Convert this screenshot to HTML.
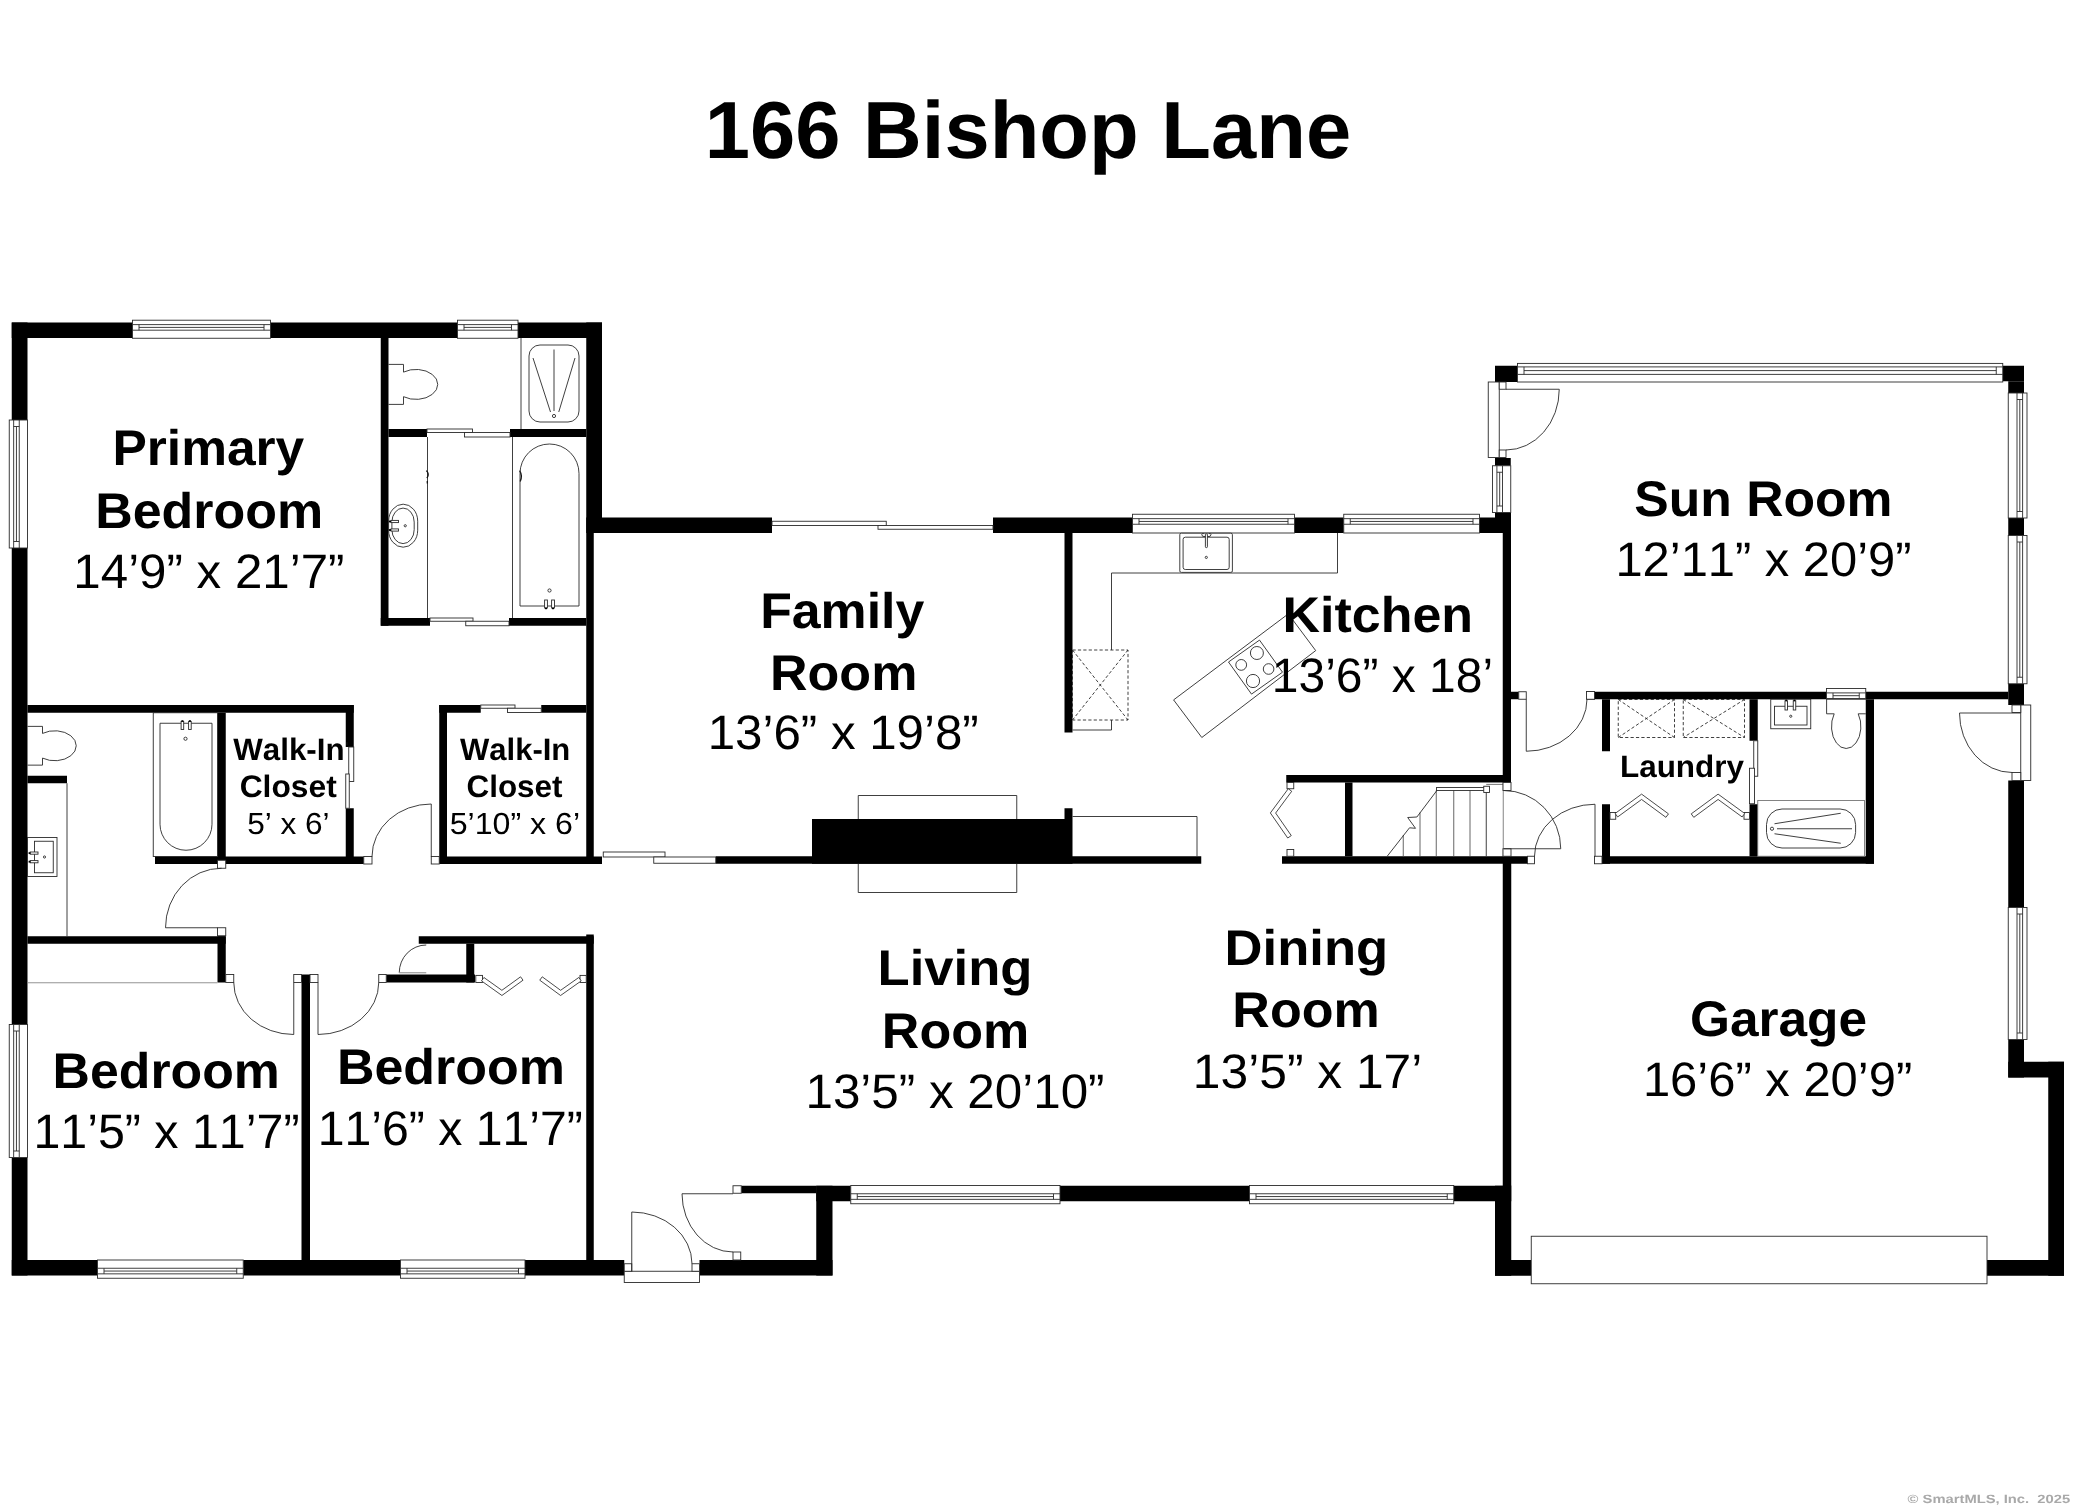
<!DOCTYPE html>
<html><head><meta charset="utf-8"><title>166 Bishop Lane</title>
<style>
html,body{margin:0;padding:0;background:#fff;}
body{width:2076px;height:1510px;overflow:hidden;font-family:"Liberation Sans",sans-serif;}
svg{display:block;will-change:transform;}
text{white-space:pre;}
</style></head><body>
<svg width="2076" height="1510" viewBox="0 0 2076 1510">
<rect x="0" y="0" width="2076" height="1510" fill="#fff"/>
<g fill="#000" stroke="none">
<rect x="11.75" y="322.5" width="120.75" height="15.5"/>
<rect x="270.5" y="322.5" width="187" height="15.5"/>
<rect x="518" y="322.5" width="84" height="15.5"/>
<rect x="11.75" y="322.5" width="15.75" height="97.5"/>
<rect x="11.75" y="548" width="15.75" height="476.5"/>
<rect x="11.75" y="1157.5" width="15.75" height="118"/>
<rect x="11.75" y="1260" width="85.75" height="15.5"/>
<rect x="243.25" y="1260" width="157.25" height="15.5"/>
<rect x="525" y="1260" width="99.25" height="15.5"/>
<rect x="699.5" y="1260" width="133" height="15.5"/>
<rect x="816.25" y="1185.75" width="16.25" height="89.75"/>
<rect x="816.25" y="1185.75" width="34.5" height="15.5"/>
<rect x="1060" y="1185.75" width="189.5" height="15.5"/>
<rect x="1453.75" y="1185.75" width="57.5" height="15.5"/>
<rect x="741.25" y="1185.75" width="75" height="7.5"/>
<rect x="1495" y="1185.75" width="16.25" height="90"/>
<rect x="1495" y="1260" width="36.25" height="15.75"/>
<rect x="1987" y="1260" width="77" height="15.75"/>
<rect x="2048.25" y="1061.75" width="15.75" height="214"/>
<rect x="2008.25" y="1061.75" width="55.75" height="15.75"/>
<rect x="2008.25" y="1039.5" width="15.75" height="38"/>
<rect x="2008.25" y="780.5" width="15.75" height="127"/>
<rect x="2008.25" y="683.75" width="15.75" height="21.25"/>
<rect x="2008.25" y="518" width="15.75" height="17.5"/>
<rect x="2002.75" y="365.75" width="21.25" height="15.5"/>
<rect x="2008.25" y="381.25" width="15.75" height="11.75"/>
<rect x="1495" y="365.75" width="22" height="16.25"/>
<rect x="1495" y="458" width="15.75" height="7.75"/>
<rect x="1495" y="512.5" width="15.75" height="5.5"/>
<rect x="586.25" y="322.5" width="15.75" height="210.5"/>
<rect x="586.25" y="517.5" width="185.75" height="15.5"/>
<rect x="993" y="517.5" width="139.5" height="15.5"/>
<rect x="1294.5" y="517.5" width="49.25" height="15.5"/>
<rect x="1479.5" y="517.5" width="31.25" height="15.5"/>
<rect x="1502.75" y="512.5" width="8.25" height="270"/>
<rect x="1502.75" y="856.25" width="8.5" height="329.75"/>
<rect x="380.75" y="338" width="7.75" height="287.75"/>
<rect x="388.5" y="429" width="38.5" height="8"/>
<rect x="510" y="429" width="76.25" height="8"/>
<rect x="380.75" y="618" width="49.25" height="7.75"/>
<rect x="509" y="618" width="77.25" height="7.75"/>
<rect x="27.5" y="705" width="326.25" height="7.75"/>
<rect x="345.75" y="705" width="8" height="42"/>
<rect x="345.75" y="808.25" width="8" height="55.75"/>
<rect x="217.5" y="712.75" width="8.25" height="147.25"/>
<rect x="155" y="856.5" width="208.75" height="7.5"/>
<rect x="27.5" y="775.75" width="39.5" height="7.5"/>
<rect x="27.5" y="936.25" width="198.25" height="7.5"/>
<rect x="217.5" y="936.25" width="8.25" height="46.25"/>
<rect x="439.25" y="705" width="7.75" height="159"/>
<rect x="439.25" y="705" width="41.5" height="7.75"/>
<rect x="541.25" y="705" width="45" height="7.75"/>
<rect x="439.25" y="856.5" width="162.75" height="7.5"/>
<rect x="586.25" y="533" width="7.5" height="331"/>
<rect x="715.75" y="856.25" width="485.5" height="7.5"/>
<rect x="812" y="819" width="260.5" height="44.75"/>
<rect x="1064.5" y="808.25" width="8" height="10.75"/>
<rect x="1064.5" y="533" width="8" height="199.5"/>
<rect x="418.75" y="936.25" width="175" height="7.5"/>
<rect x="586.25" y="934.5" width="7.5" height="325.5"/>
<rect x="466.25" y="943.75" width="8" height="38.75"/>
<rect x="386.25" y="974.5" width="88.75" height="8"/>
<rect x="301.5" y="974.5" width="8.5" height="285.5"/>
<rect x="1286.25" y="775" width="216.75" height="7.5"/>
<rect x="1282" y="856.25" width="245.5" height="7.5"/>
<rect x="1345" y="782.5" width="7.5" height="73.75"/>
<rect x="1511" y="691.75" width="7.75" height="7.5"/>
<rect x="1594.5" y="691.75" width="232" height="7.5"/>
<rect x="1865.75" y="691.75" width="142.5" height="7.5"/>
<rect x="1602" y="699.25" width="8" height="52"/>
<rect x="1602" y="804.25" width="8" height="59.5"/>
<rect x="1749.5" y="699.25" width="8.25" height="41.5"/>
<rect x="1749.5" y="804.25" width="8.25" height="52"/>
<rect x="1865.75" y="699.25" width="8.25" height="164.5"/>
<rect x="1602" y="856.25" width="272" height="7.5"/>
</g>
<rect x="132.5" y="320.2" width="138" height="18.05" fill="#fff" stroke="#2a2a2a" stroke-width="0.9"/>
<line x1="132.5" y1="324.6" x2="270.5" y2="324.6" stroke="#2a2a2a" stroke-width="0.9" />
<line x1="132.5" y1="330.2" x2="270.5" y2="330.2" stroke="#2a2a2a" stroke-width="0.9" />
<line x1="139" y1="327.4" x2="264" y2="327.4" stroke="#2a2a2a" stroke-width="0.9" />
<line x1="139" y1="324.6" x2="139" y2="330.2" stroke="#2a2a2a" stroke-width="0.9" />
<line x1="264" y1="324.6" x2="264" y2="330.2" stroke="#2a2a2a" stroke-width="0.9" />
<rect x="457.5" y="320.2" width="60.5" height="18.05" fill="#fff" stroke="#2a2a2a" stroke-width="0.9"/>
<line x1="457.5" y1="324.6" x2="518" y2="324.6" stroke="#2a2a2a" stroke-width="0.9" />
<line x1="457.5" y1="330.2" x2="518" y2="330.2" stroke="#2a2a2a" stroke-width="0.9" />
<line x1="464" y1="327.4" x2="511.5" y2="327.4" stroke="#2a2a2a" stroke-width="0.9" />
<line x1="464" y1="324.6" x2="464" y2="330.2" stroke="#2a2a2a" stroke-width="0.9" />
<line x1="511.5" y1="324.6" x2="511.5" y2="330.2" stroke="#2a2a2a" stroke-width="0.9" />
<rect x="9.25" y="420" width="18.25" height="128" fill="#fff" stroke="#2a2a2a" stroke-width="0.9"/>
<line x1="13.65" y1="420" x2="13.65" y2="548" stroke="#2a2a2a" stroke-width="0.9" />
<line x1="19.25" y1="420" x2="19.25" y2="548" stroke="#2a2a2a" stroke-width="0.9" />
<line x1="16.45" y1="426.5" x2="16.45" y2="541.5" stroke="#2a2a2a" stroke-width="0.9" />
<line x1="13.65" y1="426.5" x2="19.25" y2="426.5" stroke="#2a2a2a" stroke-width="0.9" />
<line x1="13.65" y1="541.5" x2="19.25" y2="541.5" stroke="#2a2a2a" stroke-width="0.9" />
<rect x="9.25" y="1024.5" width="18.25" height="133" fill="#fff" stroke="#2a2a2a" stroke-width="0.9"/>
<line x1="13.65" y1="1024.5" x2="13.65" y2="1157.5" stroke="#2a2a2a" stroke-width="0.9" />
<line x1="19.25" y1="1024.5" x2="19.25" y2="1157.5" stroke="#2a2a2a" stroke-width="0.9" />
<line x1="16.45" y1="1031" x2="16.45" y2="1151" stroke="#2a2a2a" stroke-width="0.9" />
<line x1="13.65" y1="1031" x2="19.25" y2="1031" stroke="#2a2a2a" stroke-width="0.9" />
<line x1="13.65" y1="1151" x2="19.25" y2="1151" stroke="#2a2a2a" stroke-width="0.9" />
<rect x="97.5" y="1260" width="145.75" height="18.25" fill="#fff" stroke="#2a2a2a" stroke-width="0.9"/>
<line x1="97.5" y1="1273.85" x2="243.25" y2="1273.85" stroke="#2a2a2a" stroke-width="0.9" />
<line x1="97.5" y1="1268.25" x2="243.25" y2="1268.25" stroke="#2a2a2a" stroke-width="0.9" />
<line x1="104" y1="1271.05" x2="236.75" y2="1271.05" stroke="#2a2a2a" stroke-width="0.9" />
<line x1="104" y1="1273.85" x2="104" y2="1268.25" stroke="#2a2a2a" stroke-width="0.9" />
<line x1="236.75" y1="1273.85" x2="236.75" y2="1268.25" stroke="#2a2a2a" stroke-width="0.9" />
<rect x="400.5" y="1260" width="124.5" height="18.25" fill="#fff" stroke="#2a2a2a" stroke-width="0.9"/>
<line x1="400.5" y1="1273.85" x2="525" y2="1273.85" stroke="#2a2a2a" stroke-width="0.9" />
<line x1="400.5" y1="1268.25" x2="525" y2="1268.25" stroke="#2a2a2a" stroke-width="0.9" />
<line x1="407" y1="1271.05" x2="518.5" y2="1271.05" stroke="#2a2a2a" stroke-width="0.9" />
<line x1="407" y1="1273.85" x2="407" y2="1268.25" stroke="#2a2a2a" stroke-width="0.9" />
<line x1="518.5" y1="1273.85" x2="518.5" y2="1268.25" stroke="#2a2a2a" stroke-width="0.9" />
<rect x="850.75" y="1185.5" width="209.25" height="18.25" fill="#fff" stroke="#2a2a2a" stroke-width="0.9"/>
<line x1="850.75" y1="1199.35" x2="1060" y2="1199.35" stroke="#2a2a2a" stroke-width="0.9" />
<line x1="850.75" y1="1193.75" x2="1060" y2="1193.75" stroke="#2a2a2a" stroke-width="0.9" />
<line x1="857.25" y1="1196.55" x2="1053.5" y2="1196.55" stroke="#2a2a2a" stroke-width="0.9" />
<line x1="857.25" y1="1199.35" x2="857.25" y2="1193.75" stroke="#2a2a2a" stroke-width="0.9" />
<line x1="1053.5" y1="1199.35" x2="1053.5" y2="1193.75" stroke="#2a2a2a" stroke-width="0.9" />
<rect x="1249.5" y="1185.5" width="204.25" height="18.25" fill="#fff" stroke="#2a2a2a" stroke-width="0.9"/>
<line x1="1249.5" y1="1199.35" x2="1453.75" y2="1199.35" stroke="#2a2a2a" stroke-width="0.9" />
<line x1="1249.5" y1="1193.75" x2="1453.75" y2="1193.75" stroke="#2a2a2a" stroke-width="0.9" />
<line x1="1256" y1="1196.55" x2="1447.25" y2="1196.55" stroke="#2a2a2a" stroke-width="0.9" />
<line x1="1256" y1="1199.35" x2="1256" y2="1193.75" stroke="#2a2a2a" stroke-width="0.9" />
<line x1="1447.25" y1="1199.35" x2="1447.25" y2="1193.75" stroke="#2a2a2a" stroke-width="0.9" />
<rect x="1132.5" y="514.25" width="162" height="18.75" fill="#fff" stroke="#2a2a2a" stroke-width="0.9"/>
<line x1="1132.5" y1="518.65" x2="1294.5" y2="518.65" stroke="#2a2a2a" stroke-width="0.9" />
<line x1="1132.5" y1="524.25" x2="1294.5" y2="524.25" stroke="#2a2a2a" stroke-width="0.9" />
<line x1="1139" y1="521.45" x2="1288" y2="521.45" stroke="#2a2a2a" stroke-width="0.9" />
<line x1="1139" y1="518.65" x2="1139" y2="524.25" stroke="#2a2a2a" stroke-width="0.9" />
<line x1="1288" y1="518.65" x2="1288" y2="524.25" stroke="#2a2a2a" stroke-width="0.9" />
<rect x="1343.75" y="514.25" width="135.75" height="18.75" fill="#fff" stroke="#2a2a2a" stroke-width="0.9"/>
<line x1="1343.75" y1="518.65" x2="1479.5" y2="518.65" stroke="#2a2a2a" stroke-width="0.9" />
<line x1="1343.75" y1="524.25" x2="1479.5" y2="524.25" stroke="#2a2a2a" stroke-width="0.9" />
<line x1="1350.25" y1="521.45" x2="1473" y2="521.45" stroke="#2a2a2a" stroke-width="0.9" />
<line x1="1350.25" y1="518.65" x2="1350.25" y2="524.25" stroke="#2a2a2a" stroke-width="0.9" />
<line x1="1473" y1="518.65" x2="1473" y2="524.25" stroke="#2a2a2a" stroke-width="0.9" />
<rect x="1517.5" y="363.4" width="485.25" height="18.6" fill="#fff" stroke="#2a2a2a" stroke-width="0.9"/>
<line x1="1517.5" y1="366.9" x2="2002.75" y2="366.9" stroke="#2a2a2a" stroke-width="0.9" />
<line x1="1517.5" y1="374.4" x2="2002.75" y2="374.4" stroke="#2a2a2a" stroke-width="0.9" />
<line x1="1524" y1="370.6" x2="1996.25" y2="370.6" stroke="#2a2a2a" stroke-width="0.9" />
<line x1="1524" y1="366.9" x2="1524" y2="374.4" stroke="#2a2a2a" stroke-width="0.9" />
<line x1="1996.25" y1="366.9" x2="1996.25" y2="374.4" stroke="#2a2a2a" stroke-width="0.9" />
<rect x="2008.25" y="393" width="18.75" height="125" fill="#fff" stroke="#2a2a2a" stroke-width="0.9"/>
<line x1="2022.6" y1="393" x2="2022.6" y2="518" stroke="#2a2a2a" stroke-width="0.9" />
<line x1="2017" y1="393" x2="2017" y2="518" stroke="#2a2a2a" stroke-width="0.9" />
<line x1="2019.8" y1="399.5" x2="2019.8" y2="511.5" stroke="#2a2a2a" stroke-width="0.9" />
<line x1="2022.6" y1="399.5" x2="2017" y2="399.5" stroke="#2a2a2a" stroke-width="0.9" />
<line x1="2022.6" y1="511.5" x2="2017" y2="511.5" stroke="#2a2a2a" stroke-width="0.9" />
<rect x="2008.25" y="535.5" width="18.75" height="148.25" fill="#fff" stroke="#2a2a2a" stroke-width="0.9"/>
<line x1="2022.6" y1="535.5" x2="2022.6" y2="683.75" stroke="#2a2a2a" stroke-width="0.9" />
<line x1="2017" y1="535.5" x2="2017" y2="683.75" stroke="#2a2a2a" stroke-width="0.9" />
<line x1="2019.8" y1="542" x2="2019.8" y2="677.25" stroke="#2a2a2a" stroke-width="0.9" />
<line x1="2022.6" y1="542" x2="2017" y2="542" stroke="#2a2a2a" stroke-width="0.9" />
<line x1="2022.6" y1="677.25" x2="2017" y2="677.25" stroke="#2a2a2a" stroke-width="0.9" />
<rect x="2008.25" y="907.5" width="18.75" height="132" fill="#fff" stroke="#2a2a2a" stroke-width="0.9"/>
<line x1="2022.6" y1="907.5" x2="2022.6" y2="1039.5" stroke="#2a2a2a" stroke-width="0.9" />
<line x1="2017" y1="907.5" x2="2017" y2="1039.5" stroke="#2a2a2a" stroke-width="0.9" />
<line x1="2019.8" y1="914" x2="2019.8" y2="1033" stroke="#2a2a2a" stroke-width="0.9" />
<line x1="2022.6" y1="914" x2="2017" y2="914" stroke="#2a2a2a" stroke-width="0.9" />
<line x1="2022.6" y1="1033" x2="2017" y2="1033" stroke="#2a2a2a" stroke-width="0.9" />
<rect x="1492.5" y="465.75" width="18.25" height="46.75" fill="#fff" stroke="#2a2a2a" stroke-width="0.9"/>
<line x1="1496.9" y1="465.75" x2="1496.9" y2="512.5" stroke="#2a2a2a" stroke-width="0.9" />
<line x1="1502.5" y1="465.75" x2="1502.5" y2="512.5" stroke="#2a2a2a" stroke-width="0.9" />
<line x1="1499.7" y1="472.25" x2="1499.7" y2="506" stroke="#2a2a2a" stroke-width="0.9" />
<line x1="1496.9" y1="472.25" x2="1502.5" y2="472.25" stroke="#2a2a2a" stroke-width="0.9" />
<line x1="1496.9" y1="506" x2="1502.5" y2="506" stroke="#2a2a2a" stroke-width="0.9" />
<rect x="1826.5" y="688.5" width="39.25" height="10.75" fill="#fff" stroke="#2a2a2a" stroke-width="0.9"/>
<line x1="1826.5" y1="692.9" x2="1865.75" y2="692.9" stroke="#2a2a2a" stroke-width="0.9" />
<line x1="1826.5" y1="698.5" x2="1865.75" y2="698.5" stroke="#2a2a2a" stroke-width="0.9" />
<line x1="1833" y1="695.7" x2="1859.25" y2="695.7" stroke="#2a2a2a" stroke-width="0.9" />
<line x1="1833" y1="692.9" x2="1833" y2="698.5" stroke="#2a2a2a" stroke-width="0.9" />
<line x1="1859.25" y1="692.9" x2="1859.25" y2="698.5" stroke="#2a2a2a" stroke-width="0.9" />
<g>
<path d="M388.5 364.4 H403.5 V372.12 A21.75 15 0 1 1 403.5 396.68 V404.4 H388.5" fill="none" stroke="#2a2a2a" stroke-width="0.9" />
<line x1="521" y1="338" x2="521" y2="429" stroke="#2a2a2a" stroke-width="0.9" />
<rect x="529" y="345" width="50" height="77" rx="11" ry="11" fill="none" stroke="#2a2a2a" stroke-width="0.9"/>
<line x1="554" y1="349.5" x2="554" y2="411" stroke="#2a2a2a" stroke-width="0.9" />
<line x1="533" y1="358" x2="550.5" y2="412" stroke="#2a2a2a" stroke-width="0.9" />
<line x1="575" y1="358" x2="558.75" y2="412" stroke="#2a2a2a" stroke-width="0.9" />
<circle cx="554" cy="416" r="1.6" fill="none" stroke="#2a2a2a" stroke-width="0.9"/>
<rect x="427" y="429" width="45.5" height="3.5" fill="#fff" stroke="#2a2a2a" stroke-width="0.9"/>
<rect x="464.5" y="432.5" width="45.5" height="4.5" fill="#fff" stroke="#2a2a2a" stroke-width="0.9"/>
<rect x="430" y="618" width="43" height="3.25" fill="#fff" stroke="#2a2a2a" stroke-width="0.9"/>
<rect x="465.75" y="621.25" width="43.25" height="4.5" fill="#fff" stroke="#2a2a2a" stroke-width="0.9"/>
<line x1="427.5" y1="437" x2="427.5" y2="618" stroke="#2a2a2a" stroke-width="0.9" />
<line x1="512.5" y1="437" x2="512.5" y2="618" stroke="#2a2a2a" stroke-width="0.9" />
<rect x="388.6" y="504.2" width="29.1" height="43" rx="14.5" ry="17" fill="none" stroke="#2a2a2a" stroke-width="0.9"/>
<rect x="391.9" y="508.1" width="22.3" height="35.5" rx="11.1" ry="14" fill="none" stroke="#2a2a2a" stroke-width="0.9"/>
<rect x="391" y="520.4" width="7.5" height="2.2" fill="#fff" stroke="#2a2a2a" stroke-width="0.9"/>
<rect x="391" y="528.9" width="7.5" height="2.2" fill="#fff" stroke="#2a2a2a" stroke-width="0.9"/>
<rect x="388.8" y="520.6" width="2.2" height="1.8" fill="#000"/><rect x="388.8" y="529.1" width="2.2" height="1.8" fill="#000"/>
<path d="M426.3 470.6 q3.6 3.4 0.6 7.6 M427.3 481 v2.4" fill="none" stroke="#111" stroke-width="1.3" />
<path d="M519.6 470.6 q3.2 5 0.6 10.8" fill="none" stroke="#111" stroke-width="1.3" />
<circle cx="405.25" cy="525.75" r="1.1" fill="none" stroke="#2a2a2a" stroke-width="0.9"/>
<path d="M520 606 V473.5 A29.5 29.5 0 0 1 579 473.5 V606 Z" fill="none" stroke="#2a2a2a" stroke-width="0.9" />
<circle cx="549.5" cy="590.5" r="1.6" fill="none" stroke="#2a2a2a" stroke-width="0.9"/>
<rect x="544.6" y="600" width="2.8" height="8" fill="#fff" stroke="#2a2a2a" stroke-width="0.9"/>
<rect x="551.6" y="600" width="2.9" height="8" fill="#fff" stroke="#2a2a2a" stroke-width="0.9"/>
<rect x="545" y="607.6" width="2" height="1.6" fill="#000"/><rect x="552" y="607.6" width="2" height="1.6" fill="#000"/>
<path d="M27.5 726.375 H42.5 V733.42 A21.5 15 0 1 1 42.5 758.08 V765.125 H27.5" fill="none" stroke="#2a2a2a" stroke-width="0.9" />
<line x1="67" y1="783.25" x2="67" y2="936.25" stroke="#2a2a2a" stroke-width="0.9" />
<rect x="27.5" y="837.5" width="29.5" height="39" fill="#fff" stroke="#2a2a2a" stroke-width="0.9"/>
<rect x="34.5" y="841.25" width="18.75" height="31.5" fill="#fff" stroke="#2a2a2a" stroke-width="0.9"/>
<rect x="30.2" y="852" width="7.8" height="2.2" fill="#fff" stroke="#2a2a2a" stroke-width="0.9"/>
<rect x="30.2" y="860.6" width="7.8" height="2.2" fill="#fff" stroke="#2a2a2a" stroke-width="0.9"/>
<rect x="28.6" y="852.2" width="1.8" height="1.8" fill="#000"/><rect x="28.6" y="860.8" width="1.8" height="1.8" fill="#000"/>
<circle cx="44.5" cy="857" r="1.1" fill="none" stroke="#2a2a2a" stroke-width="0.9"/>
<rect x="153.25" y="712.75" width="64.25" height="143.75" fill="none" stroke="#2a2a2a" stroke-width="0.9"/>
<path d="M160 723.25 H212 V824.25 A26 26 0 0 1 160 824.25 Z" fill="none" stroke="#2a2a2a" stroke-width="0.9" />
<rect x="181.1" y="721.4" width="2.6" height="8.1" fill="#fff" stroke="#2a2a2a" stroke-width="0.9"/>
<rect x="188.6" y="721.4" width="2.6" height="8.1" fill="#fff" stroke="#2a2a2a" stroke-width="0.9"/>
<rect x="181.4" y="720.2" width="2" height="1.6" fill="#000"/><rect x="188.9" y="720.2" width="2" height="1.6" fill="#000"/>
<circle cx="185.5" cy="738.75" r="1.6" fill="none" stroke="#2a2a2a" stroke-width="0.9"/>
<line x1="27.5" y1="982.75" x2="217.5" y2="982.75" stroke="#888" stroke-width="0.9" />
<rect x="348.75" y="747" width="5" height="34.5" fill="#fff" stroke="#2a2a2a" stroke-width="0.9"/>
<rect x="345.75" y="774" width="3.5" height="34.25" fill="#fff" stroke="#2a2a2a" stroke-width="0.9"/>
<rect x="346.2" y="742.2" width="1.4" height="3" fill="#111"/>
<rect x="480.75" y="705" width="34.25" height="3.25" fill="#fff" stroke="#2a2a2a" stroke-width="0.9"/>
<rect x="507.5" y="708.25" width="33.75" height="4.25" fill="#fff" stroke="#2a2a2a" stroke-width="0.9"/>
<rect x="217.5" y="860.25" width="8.25" height="8" fill="#fff" stroke="#2a2a2a" stroke-width="0.9"/>
<rect x="217.5" y="927.75" width="8.25" height="8" fill="#fff" stroke="#2a2a2a" stroke-width="0.9"/>
<path d="M221.5 868.25 A56 59.5 0 0 0 165.5 927.75 H217.5" fill="none" stroke="#2a2a2a" stroke-width="0.9" />
<rect x="363.75" y="856.5" width="8.25" height="7.5" fill="#fff" stroke="#2a2a2a" stroke-width="0.9"/>
<rect x="431.25" y="856.5" width="8" height="7.5" fill="#fff" stroke="#2a2a2a" stroke-width="0.9"/>
<path d="M372 856.5 A59.25 52.5 0 0 1 431.25 804 V856.5" fill="none" stroke="#2a2a2a" stroke-width="0.9" />
<rect x="225.75" y="974.5" width="8" height="8" fill="#fff" stroke="#2a2a2a" stroke-width="0.9"/>
<rect x="293.75" y="974.5" width="7.75" height="8" fill="#fff" stroke="#2a2a2a" stroke-width="0.9"/>
<path d="M233.75 982.5 A60 52 0 0 0 293.75 1034.5 V982.5" fill="none" stroke="#2a2a2a" stroke-width="0.9" />
<rect x="310" y="974.5" width="8" height="8" fill="#fff" stroke="#2a2a2a" stroke-width="0.9"/>
<rect x="378.75" y="974.5" width="7.5" height="8" fill="#fff" stroke="#2a2a2a" stroke-width="0.9"/>
<path d="M378.75 982.5 A60.75 52 0 0 1 318 1034.5 V982.5" fill="none" stroke="#2a2a2a" stroke-width="0.9" />
<path d="M426.25 945 A27 27.75 0 0 0 399.25 972.75" fill="none" stroke="#2a2a2a" stroke-width="0.9" />
<line x1="399.25" y1="972.75" x2="426.25" y2="972.75" stroke="#999" stroke-width="1.2" />
<rect x="475.8" y="975.4" width="6.7" height="7.1" fill="#fff" stroke="#2a2a2a" stroke-width="0.9"/>
<rect x="580" y="975.4" width="6.25" height="7.1" fill="#fff" stroke="#2a2a2a" stroke-width="0.9"/>
<polygon points="481.48,980.91 501.91,995.49 523.03,980.20 520.57,976.80 501.89,990.31 483.92,977.49" fill="#fff" stroke="#2a2a2a" stroke-width="0.85" stroke-linejoin="miter"/>
<polygon points="539.76,980.19 560.58,995.49 581.21,980.92 578.79,977.48 560.62,990.31 542.24,976.81" fill="#fff" stroke="#2a2a2a" stroke-width="0.85" stroke-linejoin="miter"/>
<rect x="772" y="521.25" width="114.25" height="4.25" fill="#fff" stroke="#2a2a2a" stroke-width="0.9"/>
<rect x="878" y="525.5" width="115" height="3.75" fill="#fff" stroke="#2a2a2a" stroke-width="0.9"/>
<rect x="603.25" y="852" width="61.75" height="5" fill="#fff" stroke="#2a2a2a" stroke-width="0.9"/>
<rect x="653.75" y="857" width="62" height="6.25" fill="#fff" stroke="#2a2a2a" stroke-width="0.9"/>
<path d="M858.25 819 V795.5 H1016.75 V819" fill="none" stroke="#2a2a2a" stroke-width="0.9" />
<path d="M858.25 863.75 V892.5 H1016.75 V863.75" fill="none" stroke="#2a2a2a" stroke-width="0.9" />
<path d="M1072.5 816.5 H1197 V856.25" fill="none" stroke="#2a2a2a" stroke-width="0.9" />
<path d="M1337.5 533 V573 H1111.5 V650" fill="none" stroke="#2a2a2a" stroke-width="0.9" />
<rect x="1179.8" y="533.2" width="52.6" height="39.2" rx="1.5" fill="#fff" stroke="#2a2a2a" stroke-width="0.9"/>
<rect x="1183.1" y="537.2" width="46.1" height="32.3" rx="2.2" fill="#fff" stroke="#2a2a2a" stroke-width="0.9"/>
<rect x="1205.4" y="533.8" width="2" height="13.8" rx="0.8" fill="#fff" stroke="#2a2a2a" stroke-width="0.9"/>
<path d="M1205.2 536.6 q-3.4 0.4 -3.4 -2 q0.4 -1.6 2 -1 M1207.6 536.6 q3.4 0.4 3.4 -2 q-0.4 -1.6 -2 -1" fill="none" stroke="#2a2a2a" stroke-width="0.9" />
<circle cx="1206.3" cy="557.4" r="1.1" fill="none" stroke="#2a2a2a" stroke-width="0.9"/>
<rect x="1072.5" y="650" width="55.5" height="70" fill="none" stroke="#2a2a2a" stroke-width="0.9" stroke-dasharray="3.2 2.2"/>
<line x1="1072.5" y1="650" x2="1128" y2="720" stroke="#2a2a2a" stroke-width="0.9" stroke-dasharray="3.2 2.2"/>
<line x1="1128" y1="650" x2="1072.5" y2="720" stroke="#2a2a2a" stroke-width="0.9" stroke-dasharray="3.2 2.2"/>
<path d="M1111.5 720 V730 H1072.5" fill="none" stroke="#2a2a2a" stroke-width="0.9" />
<path d="M1288.3 613.9 L1315.7 650.6 L1201.8 737.5 L1173.6 699.9 Z" fill="none" stroke="#2a2a2a" stroke-width="0.9" />
<path d="M1259.5 640.1 L1282.5 672.2 L1251.5 694.1 L1228.5 662 Z" fill="none" stroke="#2a2a2a" stroke-width="0.9" />
<circle cx="1256.9" cy="653" r="6.5" fill="none" stroke="#2a2a2a" stroke-width="0.9"/>
<circle cx="1241.2" cy="664.9" r="5.4" fill="none" stroke="#2a2a2a" stroke-width="0.9"/>
<circle cx="1268.6" cy="669" r="5.3" fill="none" stroke="#2a2a2a" stroke-width="0.9"/>
<circle cx="1253" cy="681" r="6.6" fill="none" stroke="#2a2a2a" stroke-width="0.9"/>
<rect x="1287" y="782.5" width="6.75" height="6.25" fill="#fff" stroke="#2a2a2a" stroke-width="0.9"/>
<rect x="1287" y="849.5" width="6.75" height="6.75" fill="#fff" stroke="#2a2a2a" stroke-width="0.9"/>
<polygon points="1288.27,788.72 1270.36,812.96 1287.73,838.02 1291.27,835.58 1275.64,813.04 1291.73,791.28" fill="#fff" stroke="#2a2a2a" stroke-width="0.85" stroke-linejoin="miter"/>
<line x1="1403.25" y1="835" x2="1403.25" y2="856.25" stroke="#555" stroke-width="0.9" />
<line x1="1420" y1="812.5" x2="1420" y2="856.25" stroke="#555" stroke-width="0.9" />
<line x1="1436.25" y1="790.5" x2="1436.25" y2="856.25" stroke="#555" stroke-width="0.9" />
<line x1="1453.75" y1="790.5" x2="1453.75" y2="856.25" stroke="#555" stroke-width="0.9" />
<line x1="1470" y1="790.5" x2="1470" y2="856.25" stroke="#555" stroke-width="0.9" />
<line x1="1486.25" y1="787.5" x2="1486.25" y2="856.25" stroke="#2a2a2a" stroke-width="0.9" />
<path d="M1436.25 787.5 H1486.25 M1436.25 790.5 H1486.25" fill="none" stroke="#2a2a2a" stroke-width="0.9" />
<path d="M1387.4 856 L1409.5 827.8 L1415.5 828.3 L1407.7 817.5 L1416.9 817 L1436.5 791 V787.2" fill="none" stroke="#2a2a2a" stroke-width="0.9" />
<path d="M1486.25 784.4 H1503" fill="none" stroke="#666" stroke-width="0.9" />
<rect x="1483.75" y="786.25" width="5.75" height="6.25" fill="#fff" stroke="#2a2a2a" stroke-width="0.9"/>
<line x1="1503.25" y1="782.5" x2="1503.25" y2="856.25" stroke="#777" stroke-width="0.9" />
<rect x="1503" y="782.5" width="8" height="8" fill="#fff" stroke="#2a2a2a" stroke-width="0.9"/>
<rect x="1503" y="848.75" width="8" height="7.5" fill="#fff" stroke="#2a2a2a" stroke-width="0.9"/>
<path d="M1503.75 790.5 A57 58.25 0 0 1 1560.75 848.75 H1503.75" fill="none" stroke="#2a2a2a" stroke-width="0.9" />
<rect x="1518.75" y="691.75" width="7.5" height="7.5" fill="#fff" stroke="#2a2a2a" stroke-width="0.9"/>
<rect x="1587" y="691.75" width="7.5" height="7.5" fill="#fff" stroke="#2a2a2a" stroke-width="0.9"/>
<path d="M1526.25 699.25 V751.25 A60.75 52 0 0 0 1587 699.25" fill="none" stroke="#2a2a2a" stroke-width="0.9" />
<rect x="1527.5" y="856.25" width="7" height="7.5" fill="#fff" stroke="#2a2a2a" stroke-width="0.9"/>
<rect x="1594.5" y="856.25" width="7.5" height="7.5" fill="#fff" stroke="#2a2a2a" stroke-width="0.9"/>
<path d="M1534.5 856.25 A60.5 52 0 0 1 1595 804.25 V856.25" fill="none" stroke="#2a2a2a" stroke-width="0.9" />
<rect x="1618.25" y="699.5" width="56.25" height="38" fill="none" stroke="#2a2a2a" stroke-width="0.9" stroke-dasharray="3.2 2.2"/>
<line x1="1618.25" y1="699.5" x2="1674.5" y2="737.5" stroke="#2a2a2a" stroke-width="0.9" stroke-dasharray="3.2 2.2"/>
<line x1="1674.5" y1="699.5" x2="1618.25" y2="737.5" stroke="#2a2a2a" stroke-width="0.9" stroke-dasharray="3.2 2.2"/>
<rect x="1683.25" y="699.5" width="61.25" height="38" fill="none" stroke="#2a2a2a" stroke-width="0.9" stroke-dasharray="3.2 2.2"/>
<line x1="1683.25" y1="699.5" x2="1744.5" y2="737.5" stroke="#2a2a2a" stroke-width="0.9" stroke-dasharray="3.2 2.2"/>
<line x1="1744.5" y1="699.5" x2="1683.25" y2="737.5" stroke="#2a2a2a" stroke-width="0.9" stroke-dasharray="3.2 2.2"/>
<rect x="1610" y="812.5" width="5.75" height="6.75" fill="#fff" stroke="#2a2a2a" stroke-width="0.9"/>
<rect x="1744" y="812.5" width="5.5" height="6.75" fill="#fff" stroke="#2a2a2a" stroke-width="0.9"/>
<polygon points="1617.67,816.94 1641.60,799.46 1665.93,817.33 1668.47,813.87 1641.60,794.14 1615.13,813.46" fill="#fff" stroke="#2a2a2a" stroke-width="0.85" stroke-linejoin="miter"/>
<polygon points="1693.77,817.33 1718.11,799.46 1742.14,816.94 1744.66,813.46 1718.09,794.14 1691.23,813.87" fill="#fff" stroke="#2a2a2a" stroke-width="0.85" stroke-linejoin="miter"/>
<rect x="1753.75" y="740.75" width="4" height="35.5" fill="#fff" stroke="#2a2a2a" stroke-width="0.9"/>
<rect x="1749.5" y="768.25" width="5" height="35.5" fill="#fff" stroke="#2a2a2a" stroke-width="0.9"/>
<rect x="1770.75" y="699.25" width="40" height="29.5" fill="#fff" stroke="#2a2a2a" stroke-width="0.9"/>
<rect x="1774.5" y="706.25" width="32.5" height="18.75" fill="#fff" stroke="#2a2a2a" stroke-width="0.9"/>
<rect x="1785" y="700.8" width="2.5" height="9.2" fill="#fff" stroke="#2a2a2a" stroke-width="0.9"/>
<rect x="1793.25" y="700.8" width="2.5" height="9.2" fill="#fff" stroke="#2a2a2a" stroke-width="0.9"/>
<rect x="1785.3" y="699.6" width="1.9" height="1.6" fill="#000"/><rect x="1793.55" y="699.6" width="1.9" height="1.6" fill="#000"/>
<circle cx="1790.75" cy="716.25" r="1.1" fill="none" stroke="#2a2a2a" stroke-width="0.9"/>
<path d="M1826.6 699.25 V713.8 H1834.2 A14.7 22 0 1 0 1858.2 713.8 H1865.8" fill="none" stroke="#2a2a2a" stroke-width="0.9" />
<rect x="1757.75" y="800.5" width="106.75" height="55.75" fill="none" stroke="#777" stroke-width="0.9"/>
<rect x="1766.5" y="809" width="89.1" height="39" rx="15.5" ry="15.5" fill="none" stroke="#2a2a2a" stroke-width="0.9"/>
<line x1="1777" y1="828.75" x2="1852" y2="828.75" stroke="#2a2a2a" stroke-width="0.9" />
<line x1="1774.5" y1="823.75" x2="1840.75" y2="813.25" stroke="#2a2a2a" stroke-width="0.9" />
<line x1="1774.5" y1="833.75" x2="1840.75" y2="843.25" stroke="#2a2a2a" stroke-width="0.9" />
<circle cx="1772" cy="828.75" r="1.6" fill="none" stroke="#2a2a2a" stroke-width="0.9"/>
<rect x="1488.25" y="382" width="11" height="75.5" fill="#fff" stroke="#2a2a2a" stroke-width="0.9"/>
<rect x="1499.25" y="382" width="6.75" height="7.25" fill="#fff" stroke="#2a2a2a" stroke-width="0.9"/>
<rect x="1499.25" y="450" width="6.75" height="7.5" fill="#fff" stroke="#2a2a2a" stroke-width="0.9"/>
<path d="M1506 389.25 H1559.25 A53.25 60.75 0 0 1 1506 450" fill="none" stroke="#2a2a2a" stroke-width="0.9" />
<rect x="2020.75" y="705" width="10" height="75.5" fill="#fff" stroke="#2a2a2a" stroke-width="0.9"/>
<rect x="2012" y="705" width="8.75" height="7.5" fill="#fff" stroke="#2a2a2a" stroke-width="0.9"/>
<rect x="2012" y="772.5" width="8.75" height="8" fill="#fff" stroke="#2a2a2a" stroke-width="0.9"/>
<path d="M2020.75 713 H1959.5 A52.5 59.5 0 0 0 2012 772.5" fill="none" stroke="#2a2a2a" stroke-width="0.9" />
<rect x="624.25" y="1271.25" width="75.25" height="11.25" fill="#fff" stroke="#2a2a2a" stroke-width="0.9"/>
<rect x="624.25" y="1263.75" width="7.5" height="7.5" fill="#fff" stroke="#2a2a2a" stroke-width="0.9"/>
<rect x="692" y="1263.75" width="7.5" height="7.5" fill="#fff" stroke="#2a2a2a" stroke-width="0.9"/>
<path d="M631.75 1271.25 V1212 A60.25 51.75 0 0 1 692 1263.75" fill="none" stroke="#2a2a2a" stroke-width="0.9" />
<rect x="733" y="1185.75" width="8.25" height="7.5" fill="#fff" stroke="#2a2a2a" stroke-width="0.9"/>
<rect x="733" y="1252" width="7.75" height="8" fill="#fff" stroke="#2a2a2a" stroke-width="0.9"/>
<path d="M733 1193.75 H682 A51 58.5 0 0 0 733 1252" fill="none" stroke="#2a2a2a" stroke-width="0.9" />
<rect x="1531.25" y="1236.25" width="455.75" height="47.5" fill="#fff" stroke="#2a2a2a" stroke-width="0.9"/>
<rect x="1586.5" y="691.5" width="8" height="7.75" fill="#fff" stroke="#2a2a2a" stroke-width="0.9"/>
</g>
<g font-family="Liberation Sans, sans-serif" fill="#000" style="font-kerning:none" text-rendering="geometricPrecision">
<text x="704.84" y="158" font-size="81" font-weight="bold" textLength="646.31" lengthAdjust="spacingAndGlyphs">166 Bishop Lane</text>
<text x="112.43" y="465" font-size="50" font-weight="bold" textLength="191.85" lengthAdjust="spacingAndGlyphs">Primary</text>
<text x="95.17" y="527.5" font-size="50" font-weight="bold" textLength="227.95" lengthAdjust="spacingAndGlyphs">Bedroom</text>
<text x="73.39" y="587.5" font-size="48.5" font-weight="normal" textLength="271.12" lengthAdjust="spacingAndGlyphs">14’9” x 21’7”</text>
<text x="760.17" y="627.5" font-size="50" font-weight="bold" textLength="164.10" lengthAdjust="spacingAndGlyphs">Family</text>
<text x="770.06" y="690" font-size="50" font-weight="bold" textLength="147.33" lengthAdjust="spacingAndGlyphs">Room</text>
<text x="707.67" y="749" font-size="48.5" font-weight="normal" textLength="271.10" lengthAdjust="spacingAndGlyphs">13’6” x 19’8”</text>
<text x="1282.60" y="632" font-size="50" font-weight="bold" textLength="190.50" lengthAdjust="spacingAndGlyphs">Kitchen</text>
<text x="1271.87" y="692" font-size="48.5" font-weight="normal" textLength="221.21" lengthAdjust="spacingAndGlyphs">13’6” x 18’</text>
<text x="1634.22" y="516.25" font-size="50" font-weight="bold" textLength="258.35" lengthAdjust="spacingAndGlyphs">Sun Room</text>
<text x="1615.43" y="576.25" font-size="48.5" font-weight="normal" textLength="296.11" lengthAdjust="spacingAndGlyphs">12’11” x 20’9”</text>
<text x="233.25" y="759.5" font-size="31" font-weight="bold" textLength="111.32" lengthAdjust="spacingAndGlyphs">Walk-In</text>
<text x="239.70" y="797" font-size="31" font-weight="bold" textLength="97.05" lengthAdjust="spacingAndGlyphs">Closet</text>
<text x="247.19" y="833.75" font-size="30.5" font-weight="normal" textLength="82.39" lengthAdjust="spacingAndGlyphs">5’ x 6’</text>
<text x="460.00" y="759.5" font-size="31" font-weight="bold" textLength="110.30" lengthAdjust="spacingAndGlyphs">Walk-In</text>
<text x="466.46" y="797" font-size="31" font-weight="bold" textLength="96.05" lengthAdjust="spacingAndGlyphs">Closet</text>
<text x="449.69" y="833.75" font-size="30.5" font-weight="normal" textLength="130.34" lengthAdjust="spacingAndGlyphs">5’10” x 6’</text>
<text x="877.55" y="985" font-size="50" font-weight="bold" textLength="154.89" lengthAdjust="spacingAndGlyphs">Living</text>
<text x="881.87" y="1047.5" font-size="50" font-weight="bold" textLength="147.27" lengthAdjust="spacingAndGlyphs">Room</text>
<text x="805.43" y="1107.5" font-size="48.5" font-weight="normal" textLength="299.11" lengthAdjust="spacingAndGlyphs">13’5” x 20’10”</text>
<text x="1224.60" y="965" font-size="50" font-weight="bold" textLength="163.54" lengthAdjust="spacingAndGlyphs">Dining</text>
<text x="1232.34" y="1027" font-size="50" font-weight="bold" textLength="147.33" lengthAdjust="spacingAndGlyphs">Room</text>
<text x="1192.85" y="1087.5" font-size="48.5" font-weight="normal" textLength="229.49" lengthAdjust="spacingAndGlyphs">13’5” x 17’</text>
<text x="1619.97" y="777" font-size="31" font-weight="bold" textLength="124.03" lengthAdjust="spacingAndGlyphs">Laundry</text>
<text x="1689.95" y="1036.25" font-size="50" font-weight="bold" textLength="177.09" lengthAdjust="spacingAndGlyphs">Garage</text>
<text x="1642.90" y="1096.25" font-size="48.5" font-weight="normal" textLength="269.36" lengthAdjust="spacingAndGlyphs">16’6” x 20’9”</text>
<text x="52.63" y="1087.5" font-size="50" font-weight="bold" textLength="227.23" lengthAdjust="spacingAndGlyphs">Bedroom</text>
<text x="33.39" y="1147.5" font-size="48.5" font-weight="normal" textLength="266.12" lengthAdjust="spacingAndGlyphs">11’5” x 11’7”</text>
<text x="336.92" y="1084.25" font-size="50" font-weight="bold" textLength="227.95" lengthAdjust="spacingAndGlyphs">Bedroom</text>
<text x="317.67" y="1145" font-size="48.5" font-weight="normal" textLength="265.10" lengthAdjust="spacingAndGlyphs">11’6” x 11’7”</text>
<text x="1907.60" y="1502.75" font-size="12" font-weight="bold" fill="#a9a9a9" textLength="162.61" lengthAdjust="spacingAndGlyphs">© SmartMLS, Inc.  2025</text>
</g>
</svg>
</body></html>
